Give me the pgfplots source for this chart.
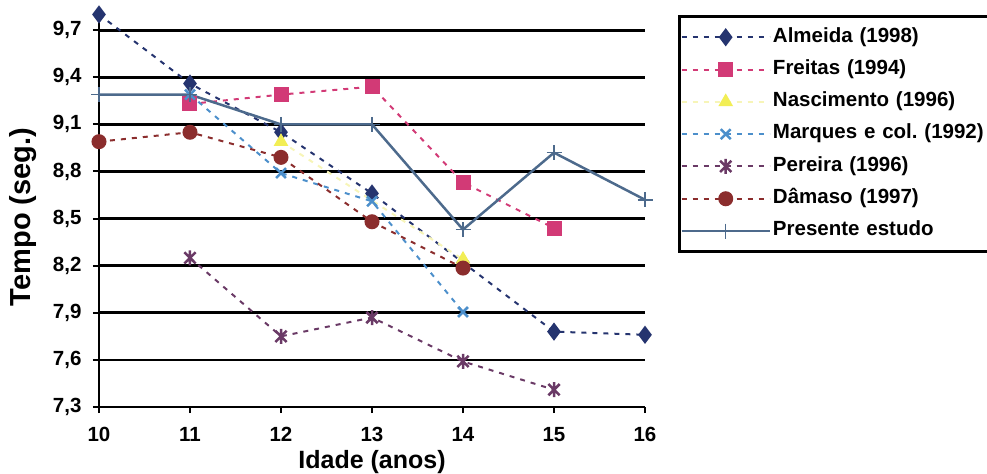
\documentclass[border=0pt]{standalone}
\usepackage{pgfplots}
\pgfplotsset{compat=1.18}
\usepackage{fontspec}
\setmainfont{Liberation Sans}
\frenchspacing

\definecolor{almeida}{HTML}{25346F}
\definecolor{freitas}{HTML}{D23A76}
\definecolor{nascimento}{HTML}{F2EE55}
\definecolor{nascline}{HTML}{F7F5B8}
\definecolor{marques}{HTML}{4C8FCB}
\definecolor{pereira}{HTML}{6A3A66}
\definecolor{damaso}{HTML}{8B2D2D}
\definecolor{presente}{HTML}{4D6A8C}

% star mark: an x crossed by a vertical stroke
\pgfdeclareplotmark{xstar}{%
  \pgfpathmoveto{\pgfqpoint{0pt}{\pgfplotmarksize}}%
  \pgfpathlineto{\pgfqpoint{0pt}{-\pgfplotmarksize}}%
  \pgfpathmoveto{\pgfqpoint{-0.75\pgfplotmarksize}{-0.75\pgfplotmarksize}}%
  \pgfpathlineto{\pgfqpoint{0.75\pgfplotmarksize}{0.75\pgfplotmarksize}}%
  \pgfpathmoveto{\pgfqpoint{-0.75\pgfplotmarksize}{0.75\pgfplotmarksize}}%
  \pgfpathlineto{\pgfqpoint{0.75\pgfplotmarksize}{-0.75\pgfplotmarksize}}%
  \pgfusepathqstroke}

\begin{document}
\begin{tikzpicture}
\useasboundingbox (-99bp,-67bp) rectangle (888bp,407bp);
\begin{axis}[
  at={(0,0)}, anchor=south west,
  scale only axis, width=546bp, height=392.5bp,
  xmin=10, xmax=16, ymin=7.3, ymax=9.8,
  xtick={10,11,12,13,14,15,16},
  ytick={7.3,7.6,7.9,8.2,8.5,8.8,9.1,9.4,9.7},
  axis x line=bottom, axis y line=left,
  axis line style={-, line width=2.5bp, black},
  ymajorgrids,
  major grid style={black, line width=2.8bp},
  tick align=outside, major tick length=6bp,
  tick style={black, line width=2bp},
  font=\fontsize{20.5bp}{24bp}\selectfont\bfseries,
  /pgf/number format/assume math mode=true,
  yticklabel style={/pgf/number format/.cd, use comma, fixed, fixed zerofill, precision=1, /tikz/.cd, xshift=-8bp},
  xticklabel style={yshift=-11bp},
  xlabel={Idade (anos)}, ylabel={Tempo (seg.)},
  xlabel style={font=\fontsize{25bp}{28bp}\selectfont\bfseries,
    at={(axis description cs:0.5,-0.140)}, anchor=center},
  ylabel style={font=\fontsize{29bp}{32bp}\selectfont\bfseries,
    at={(axis description cs:-0.139,0.484)}, anchor=center},
  clip=false,
  legend cell align=left,
  legend image code/.code={\draw[mark repeat=2,mark phase=2,#1] plot coordinates {(0bp,0bp) (44bp,0bp) (88bp,0bp)};},
  legend style={at={(axis description cs:1.0604,0.9987)}, anchor=north west,
    draw=black, line width=3bp, fill=white,
    inner xsep=1bp, inner ysep=11bp, row sep=12.8bp,
    font=\fontsize{20.5bp}{24bp}\selectfont\bfseries,
    nodes={inner xsep=2bp, inner ysep=0bp, text height=14.5bp, text depth=5bp},
    /tikz/every even column/.append style={text width=230bp}},
]
\addplot[almeida, line width=2bp, dash pattern=on 5bp off 6bp,
  mark=diamond*, mark size=7.5bp, mark options={solid, fill=almeida}]
  coordinates {(10,9.80) (11,9.36) (12,9.05) (13,8.66) (14,8.22) (15,7.78) (16,7.76)};
\addlegendentry{Almeida (1998)}
\addplot[freitas, line width=2bp, dash pattern=on 5bp off 6bp,
  mark=square*, mark size=6.5bp, mark options={solid, fill=freitas}]
  coordinates {(11,9.23) (12,9.29) (13,9.34) (14,8.73) (15,8.44)};
\addlegendentry{Freitas (1994)}
\addplot[nascline, line width=2bp, dash pattern=on 5bp off 6bp,
  mark=triangle*, mark size=6.5bp, mark options={solid, draw=nascimento, fill=nascimento}]
  coordinates {(12,8.99) (14,8.24)};
\addlegendentry{Nascimento (1996)}
\addplot[marques, line width=2bp, dash pattern=on 5bp off 6bp,
  mark=x, mark size=7bp, mark options={solid, line width=2.5bp}]
  coordinates {(11,9.29) (12,8.79) (13,8.61) (14,7.905)};
\addlegendentry{Marques e col. (1992)}
\addplot[pereira, line width=2bp, dash pattern=on 5bp off 6bp,
  mark=xstar, mark size=7.5bp, mark options={solid, line width=2.5bp}]
  coordinates {(11,8.25) (12,7.75) (13,7.87) (14,7.59) (15,7.41)};
\addlegendentry{Pereira (1996)}
\addplot[damaso, line width=2bp, dash pattern=on 5bp off 6bp,
  mark=*, mark size=6.5bp, mark options={solid, fill=damaso}]
  coordinates {(10,8.99) (11,9.05) (12,8.89) (13,8.48) (14,8.185)};
\addlegendentry{Dâmaso (1997)}
\addplot[presente, line width=2.5bp,
  mark=+, mark size=7.5bp, mark options={solid, line width=1.5bp}]
  coordinates {(10,9.29) (11,9.29) (12,9.10) (13,9.10) (14,8.43) (15,8.92) (16,8.62)};
\addlegendentry{Presente estudo}
\end{axis}
\end{tikzpicture}
\end{document}
